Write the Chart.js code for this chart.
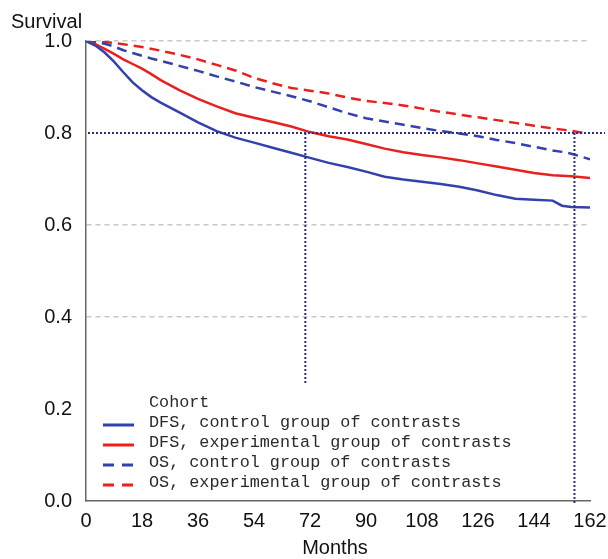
<!DOCTYPE html>
<html>
<head>
<meta charset="utf-8">
<script src="https://cdn.jsdelivr.net/npm/chart.js@4"></script>
<style>
  html, body { margin: 0; padding: 0; background: #fff; }
  #wrap { width: 608px; height: 559px; }
</style>
</head>
<body>
<div id="wrap"><canvas id="myGraph" width="608" height="559"></canvas></div>
<script>
const months = [0, 3, 6, 9, 12, 15, 18, 21, 24, 30, 36, 42, 48, 54, 60, 66, 72, 78, 84, 90, 96, 102, 108, 114, 120, 126, 132, 138, 144, 150, 153, 156, 162];
const dfsControl = [1.0, 0.99, 0.975, 0.955, 0.932, 0.91, 0.893, 0.878, 0.866, 0.845, 0.823, 0.804, 0.79, 0.779, 0.768, 0.757, 0.746, 0.735, 0.726, 0.716, 0.705, 0.699, 0.694, 0.689, 0.683, 0.675, 0.665, 0.657, 0.655, 0.653, 0.642, 0.639, 0.638];
const dfsExperimental = [1.0, 0.993, 0.983, 0.972, 0.96, 0.95, 0.94, 0.928, 0.915, 0.893, 0.874, 0.858, 0.843, 0.833, 0.824, 0.814, 0.802, 0.793, 0.786, 0.776, 0.766, 0.758, 0.752, 0.747, 0.741, 0.734, 0.727, 0.72, 0.713, 0.708, 0.707, 0.706, 0.702];
const osControl = [1.0, 0.998, 0.994, 0.988, 0.98, 0.974, 0.968, 0.962, 0.957, 0.946, 0.935, 0.923, 0.912, 0.9, 0.89, 0.88, 0.869, 0.856, 0.843, 0.832, 0.825, 0.818, 0.811, 0.804, 0.799, 0.793, 0.785, 0.778, 0.77, 0.762, 0.759, 0.755, 0.743];
const osExpMonths = [0, 6, 12, 18, 24, 30, 36, 42, 48, 54, 60, 66, 72, 78, 84, 90, 96, 102, 108, 114, 120, 126, 132, 138, 144, 150, 156, 161];
const osExperimental = [1.0, 0.998, 0.993, 0.987, 0.979, 0.97, 0.96, 0.948, 0.936, 0.92, 0.908, 0.898, 0.892, 0.886, 0.877, 0.87, 0.865, 0.86, 0.853, 0.846, 0.84, 0.834, 0.828, 0.822, 0.816, 0.81, 0.805, 0.799];
const labels = [
  "DFS, control group of contrasts",
  "DFS, experimental group of contrasts",
  "OS, control group of contrasts",
  "OS, experimental group of contrasts",
];
const xTicks = [0, 18, 36, 54, 72, 90, 108, 126, 144, 162];
const yTicks = [0, 0.2, 0.4, 0.6, 0.8, 1.0];
const refMonths = [70.5, 157];
const refSurvival = 0.8;

const BLUE = "#3341ad";
const RED = "#e8211f";
const DOT = "#2e2f80";

const pts = (xs, ys) => xs.map((x, i) => ({ x, y: ys[i] }));

const data = {
  datasets: [
    { label: labels[0], data: pts(months, dfsControl), borderColor: BLUE, borderWidth: 2.5, borderDash: [] },
    { label: labels[1], data: pts(months, dfsExperimental), borderColor: RED, borderWidth: 2.5, borderDash: [] },
    { label: labels[2], data: pts(months, osControl), borderColor: BLUE, borderWidth: 2.5, borderDash: [10, 6] },
    { label: labels[3], data: pts(osExpMonths, osExperimental), borderColor: RED, borderWidth: 2.5, borderDash: [10, 6] },
  ],
};

const overlay = {
  id: "overlay",
  afterDatasetsDraw(chart) {
    const ctx = chart.ctx;
    const xs = chart.scales.x, ys = chart.scales.y;
    const area = chart.chartArea;
    const y08 = ys.getPixelForValue(refSurvival);
    ctx.save();
    ctx.strokeStyle = DOT;
    ctx.lineWidth = 2;
    ctx.setLineDash([2, 2]);
    // first vertical reference (hidden under legend box)
    let vx = xs.getPixelForValue(refMonths[0]);
    ctx.beginPath(); ctx.moveTo(vx, y08); ctx.lineTo(vx, area.bottom); ctx.stroke();
    // horizontal 0.8 line
    ctx.beginPath(); ctx.moveTo(area.left + 2, y08); ctx.lineTo(chart.width - 3, y08); ctx.stroke();
    ctx.restore();

    // legend box
    const boxTop = 383;
    ctx.save();
    ctx.fillStyle = "#fff";
    ctx.fillRect(area.left + 1, boxTop, area.right - area.left - 3, area.bottom - boxTop - 1);
    ctx.restore();

    // second vertical reference on top
    ctx.save();
    ctx.strokeStyle = DOT;
    ctx.lineWidth = 2;
    ctx.setLineDash([2, 2]);
    vx = xs.getPixelForValue(refMonths[1]);
    ctx.beginPath(); ctx.moveTo(vx, y08); ctx.lineTo(vx, area.bottom + 4); ctx.stroke();
    ctx.restore();

    // legend content
    ctx.save();
    ctx.font = "16.8px 'Liberation Mono', 'Courier New', monospace";
    ctx.fillStyle = "#2a2a2a";
    ctx.textBaseline = "middle";
    ctx.textAlign = "left";
    ctx.fillText("Cohort", 149, 403);
    chart.data.datasets.forEach((ds, i) => {
      const ly = 423 + i * 20;
      ctx.save();
      ctx.strokeStyle = ds.borderColor;
      ctx.lineWidth = 3;
      ctx.setLineDash(ds.borderDash.length ? [11, 8] : []);
      ctx.beginPath(); ctx.moveTo(103, ly + 2); ctx.lineTo(134, ly + 2); ctx.stroke();
      ctx.restore();
      ctx.fillText(ds.label, 149, ly);
    });
    ctx.restore();

    // axis titles
    ctx.save();
    ctx.fillStyle = "#111";
    ctx.font = "20px 'Liberation Sans', Arial, sans-serif";
    ctx.textBaseline = "middle";
    ctx.textAlign = "left";
    ctx.fillText("Survival", 11, 22);
    ctx.textAlign = "center";
    ctx.fillText("Months", 335, 548);
    ctx.restore();
  },
};

const options = {
  responsive: false,
  animation: false,
  layout: { padding: { top: 41, right: 18, left: 0, bottom: 0 } },
  elements: { point: { radius: 0 }, line: { tension: 0, fill: false } },
  scales: {
    x: {
      type: "linear",
      min: 0,
      max: 162,
      afterFit: (s) => { s.height = 58; s.paddingLeft = 0; s.paddingRight = 0; },
      afterBuildTicks: (s) => { s.ticks = xTicks.map((v) => ({ value: v })); },
      grid: { display: false, drawTicks: false },
      border: { display: true, color: "#666", width: 1.5 },
      ticks: {
        padding: 8,
        color: "#111",
        font: { family: "'Liberation Sans', Arial, sans-serif", size: 20 },
        maxRotation: 0,
        autoSkip: false,
      },
    },
    y: {
      min: 0,
      max: 1,
      afterFit: (s) => { s.width = 86; s.paddingTop = 0; s.paddingBottom = 0; },
      afterBuildTicks: (s) => { s.ticks = yTicks.map((v) => ({ value: v })); },
      grid: {
        drawTicks: false,
        lineWidth: 1.5,
        color: (c) => (c.tick && (c.tick.value === 0.6 || c.tick.value === 0.4 || c.tick.value === 1) ? "#c8c8c8" : "rgba(0,0,0,0)"),
      },
      border: { display: true, color: "#666", width: 1.5, dash: [5, 4] },
      ticks: {
        padding: 14,
        color: "#111",
        font: { family: "'Liberation Sans', Arial, sans-serif", size: 20 },
        callback: (v) => Number(v).toFixed(1),
      },
    },
  },
  plugins: {
    legend: { display: false },
    tooltip: { enabled: false },
  },
};

const config = { type: "line", data, options, plugins: [overlay] };
new Chart(document.getElementById("myGraph"), config);
</script>
</body>
</html>
